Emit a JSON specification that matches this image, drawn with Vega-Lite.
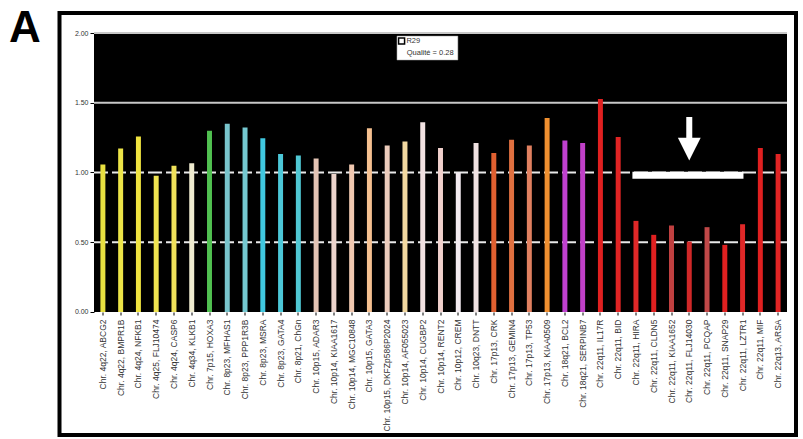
{
  "$schema": "https://vega.github.io/schema/vega-lite/v6.json",
  "width": 736.5,
  "height": 422,
  "autosize": {"type": "none"},
  "padding": {"left": 59.5, "top": 13, "right": 7, "bottom": 4},
  "background": "white",
  "config": {
    "view": {"stroke": "black", "strokeWidth": 4, "fill": "white"},
    "font": "Liberation Sans"
  },
  "title": {
    "text": "A",
    "orient": "left",
    "anchor": "end",
    "angle": 0,
    "align": "right",
    "baseline": "top",
    "frame": "group",
    "fontSize": 44,
    "fontWeight": "bold",
    "font": "Liberation Sans",
    "color": "black",
    "offset": -13,
    "dy": -6
  },
  "datasets": {
    "bars": [
      {"label": "Chr.  4q22, ABCG2", "value": 1.057},
      {"label": "Chr.  4q22, BMPR1B", "value": 1.172},
      {"label": "Chr.  4q24, NFKB1", "value": 1.258},
      {"label": "Chr.  4q25, FLJ10474", "value": 0.976},
      {"label": "Chr.  4q24, CASP6", "value": 1.048},
      {"label": "Chr.  4q34, KLKB1", "value": 1.067},
      {"label": "Chr.  7p15, HOXA3", "value": 1.299},
      {"label": "Chr.  8p23, MFHAS1", "value": 1.349},
      {"label": "Chr.  8p23, PPP1R3B", "value": 1.323},
      {"label": "Chr.  8p23, MSRA", "value": 1.246},
      {"label": "Chr.  8p23, GATA4", "value": 1.132},
      {"label": "Chr.  8p21, ChGn", "value": 1.122},
      {"label": "Chr.  10p15, ADAR3", "value": 1.100},
      {"label": "Chr.  10p14, KIAA1617", "value": 0.990},
      {"label": "Chr.  10p14, MGC10848", "value": 1.057},
      {"label": "Chr.  10p15, GATA3", "value": 1.318},
      {"label": "Chr.  10p15, DKFZp586P2024", "value": 1.194},
      {"label": "Chr.  10p14, AF055023", "value": 1.222},
      {"label": "Chr.  10p14, CUGBP2", "value": 1.361},
      {"label": "Chr.  10p14, RENT2", "value": 1.175},
      {"label": "Chr.  10p12, CREM", "value": 1.000},
      {"label": "Chr.  10q23, DNTT", "value": 1.211},
      {"label": "Chr.  17p13, CRK", "value": 1.139},
      {"label": "Chr.  17p13, GEMIN4", "value": 1.234},
      {"label": "Chr.  17p13, TP53", "value": 1.194},
      {"label": "Chr.  17p13, KIAA0509", "value": 1.390},
      {"label": "Chr.  18q21, BCL2", "value": 1.230},
      {"label": "Chr.  18q21, SERPINB7", "value": 1.211},
      {"label": "Chr.  22q11, IL17R", "value": 1.526},
      {"label": "Chr.  22q11, BID", "value": 1.254},
      {"label": "Chr.  22q11, HIRA", "value": 0.653},
      {"label": "Chr.  22q11, CLDN5", "value": 0.553},
      {"label": "Chr.  22q11, KIAA1652", "value": 0.620},
      {"label": "Chr.  22q11, FLJ14030", "value": 0.505},
      {"label": "Chr.  22q11, PCQAP", "value": 0.608},
      {"label": "Chr.  22q11, SNAP29", "value": 0.481},
      {"label": "Chr.  22q11, LZTR1", "value": 0.629},
      {"label": "Chr.  22q11, MIF", "value": 1.175},
      {"label": "Chr.  22q13, ARSA", "value": 1.132}
    ],
    "plotArea": [{"lo": 0, "hi": 2}],
    "solidGrid": [{"level": 1.5}, {"level": 2.0}],
    "dashedGrid": [{"level": 0.5}, {"level": 1.0}],
    "bracket": [{"lo": 0.956, "hi": 1.006}],
    "arrow": [{"top": 1.398, "bottom": 1.24, "head": 1.168}],
    "legendBox": [{"top": 1.978, "bottom": 1.806, "line1": 1.943, "line2": 1.857}]
  },
  "encoding": {
    "x": {
      "field": "label",
      "type": "nominal",
      "scale": {
        "type": "band",
        "paddingInner": 0,
        "paddingOuter": 0,
        "range": [34.5, 727.5],
        "domain": ["Chr.  4q22, ABCG2", "Chr.  4q22, BMPR1B", "Chr.  4q24, NFKB1", "Chr.  4q25, FLJ10474", "Chr.  4q24, CASP6", "Chr.  4q34, KLKB1", "Chr.  7p15, HOXA3", "Chr.  8p23, MFHAS1", "Chr.  8p23, PPP1R3B", "Chr.  8p23, MSRA", "Chr.  8p23, GATA4", "Chr.  8p21, ChGn", "Chr.  10p15, ADAR3", "Chr.  10p14, KIAA1617", "Chr.  10p14, MGC10848", "Chr.  10p15, GATA3", "Chr.  10p15, DKFZp586P2024", "Chr.  10p14, AF055023", "Chr.  10p14, CUGBP2", "Chr.  10p14, RENT2", "Chr.  10p12, CREM", "Chr.  10q23, DNTT", "Chr.  17p13, CRK", "Chr.  17p13, GEMIN4", "Chr.  17p13, TP53", "Chr.  17p13, KIAA0509", "Chr.  18q21, BCL2", "Chr.  18q21, SERPINB7", "Chr.  22q11, IL17R", "Chr.  22q11, BID", "Chr.  22q11, HIRA", "Chr.  22q11, CLDN5", "Chr.  22q11, KIAA1652", "Chr.  22q11, FLJ14030", "Chr.  22q11, PCQAP", "Chr.  22q11, SNAP29", "Chr.  22q11, LZTR1", "Chr.  22q11, MIF", "Chr.  22q13, ARSA"]
      },
      "axis": {
        "orient": "bottom",
        "offset": -123,
        "title": null,
        "labelAngle": -90,
        "labelAlign": "right",
        "labelBaseline": "middle",
        "labelFontSize": 8.5,
        "labelColor": "#333333",
        "labelLimit": 200,
        "labelPadding": 4,
        "tickSize": 3,
        "tickColor": "black",
        "domain": false,
        "grid": false
      }
    },
    "y": {
      "type": "quantitative",
      "scale": {"domain": [-0.882, 2.1434], "zero": false, "nice": false},
      "axis": {
        "orient": "left",
        "offset": -34.5,
        "title": null,
        "values": [0, 0.5, 1, 1.5, 2],
        "format": ".2f",
        "labelFontSize": 7,
        "labelColor": "#333333",
        "labelPadding": 2,
        "tickSize": 4,
        "tickColor": "black",
        "domain": false,
        "grid": false
      }
    }
  },
  "layer": [
    {
      "data": {"name": "plotArea"},
      "mark": {"type": "rect", "color": "black"},
      "encoding": {
        "x": {"datum": "Chr.  4q22, ABCG2", "bandPosition": 0},
        "x2": {"datum": "Chr.  22q13, ARSA", "bandPosition": 1},
        "y": {"field": "lo", "type": "quantitative"},
        "y2": {"field": "hi"}
      }
    },
    {
      "data": {"name": "solidGrid"},
      "mark": {"type": "rule", "color": "#c8c8c8", "strokeWidth": 2, "strokeCap": "butt"},
      "encoding": {
        "x": {"datum": "Chr.  4q22, ABCG2", "bandPosition": 0},
        "x2": {"datum": "Chr.  22q13, ARSA", "bandPosition": 1},
        "y": {"field": "level", "type": "quantitative"}
      }
    },
    {
      "data": {"name": "dashedGrid"},
      "mark": {"type": "rule", "color": "#e8e8e8", "strokeWidth": 2, "strokeDash": [14, 4], "strokeCap": "butt"},
      "encoding": {
        "x": {"datum": "Chr.  4q22, ABCG2", "bandPosition": 0},
        "x2": {"datum": "Chr.  22q13, ARSA", "bandPosition": 1},
        "y": {"field": "level", "type": "quantitative"}
      }
    },
    {
      "data": {"name": "bars"},
      "mark": {"type": "bar", "width": {"band": 0.28}},
      "encoding": {
        "y": {"field": "value", "type": "quantitative"},
        "y2": {"datum": 0},
        "color": {
          "field": "label",
          "type": "nominal",
          "legend": null,
          "scale": {
            "domain": ["Chr.  4q22, ABCG2", "Chr.  4q22, BMPR1B", "Chr.  4q24, NFKB1", "Chr.  4q25, FLJ10474", "Chr.  4q24, CASP6", "Chr.  4q34, KLKB1", "Chr.  7p15, HOXA3", "Chr.  8p23, MFHAS1", "Chr.  8p23, PPP1R3B", "Chr.  8p23, MSRA", "Chr.  8p23, GATA4", "Chr.  8p21, ChGn", "Chr.  10p15, ADAR3", "Chr.  10p14, KIAA1617", "Chr.  10p14, MGC10848", "Chr.  10p15, GATA3", "Chr.  10p15, DKFZp586P2024", "Chr.  10p14, AF055023", "Chr.  10p14, CUGBP2", "Chr.  10p14, RENT2", "Chr.  10p12, CREM", "Chr.  10q23, DNTT", "Chr.  17p13, CRK", "Chr.  17p13, GEMIN4", "Chr.  17p13, TP53", "Chr.  17p13, KIAA0509", "Chr.  18q21, BCL2", "Chr.  18q21, SERPINB7", "Chr.  22q11, IL17R", "Chr.  22q11, BID", "Chr.  22q11, HIRA", "Chr.  22q11, CLDN5", "Chr.  22q11, KIAA1652", "Chr.  22q11, FLJ14030", "Chr.  22q11, PCQAP", "Chr.  22q11, SNAP29", "Chr.  22q11, LZTR1", "Chr.  22q11, MIF", "Chr.  22q13, ARSA"],
            "range": ["#e8e040", "#ece448", "#f0e440", "#f0e450", "#f0e25a", "#f0ecd0", "#50c050", "#78c4cc", "#74c8d0", "#40c8e0", "#4cc8d8", "#50c8d4", "#e4c4b4", "#ecd4cc", "#f0c8b0", "#f5c090", "#ecccbc", "#f2d8a0", "#f2e2e2", "#f0d0cc", "#f2eaf0", "#f0e2e2", "#e06030", "#e07040", "#e08060", "#f09030", "#c040d0", "#c040c8", "#e02020", "#e02424", "#e02828", "#e02020", "#c04040", "#d02828", "#c04848", "#e02020", "#e02828", "#e02020", "#e02424"]
          }
        }
      }
    },
    {
      "data": {"name": "bracket"},
      "mark": {"type": "rect", "color": "white"},
      "encoding": {
        "x": {"datum": "Chr.  22q11, HIRA", "bandPosition": 0.3},
        "x2": {"datum": "Chr.  22q11, LZTR1", "bandPosition": 0.55},
        "y": {"field": "lo", "type": "quantitative"},
        "y2": {"field": "hi"}
      }
    },
    {
      "data": {"name": "arrow"},
      "mark": {"type": "rule", "color": "white", "strokeWidth": 6, "strokeCap": "butt"},
      "encoding": {
        "x": {"datum": "Chr.  22q11, FLJ14030"},
        "y": {"field": "top", "type": "quantitative"},
        "y2": {"field": "bottom"}
      }
    },
    {
      "data": {"name": "arrow"},
      "mark": {"type": "point", "shape": "M-1,-1L1,-1L0,1Z", "size": 520, "filled": true, "color": "white", "opacity": 1},
      "encoding": {
        "x": {"datum": "Chr.  22q11, FLJ14030"},
        "y": {"field": "head", "type": "quantitative"}
      }
    },
    {
      "data": {"name": "legendBox"},
      "mark": {"type": "rect", "color": "white", "stroke": "#999999", "strokeWidth": 0.5},
      "encoding": {
        "x": {"datum": "Chr.  10p14, AF055023", "bandPosition": 0.05},
        "x2": {"datum": "Chr.  10p12, CREM", "bandPosition": 0.48},
        "y": {"field": "top", "type": "quantitative"},
        "y2": {"field": "bottom"}
      }
    },
    {
      "data": {"name": "legendBox"},
      "mark": {"type": "point", "shape": "square", "size": 36, "filled": true, "color": "white", "stroke": "black", "strokeWidth": 1.5, "opacity": 1},
      "encoding": {
        "x": {"datum": "Chr.  10p14, AF055023", "bandPosition": 0.31},
        "y": {"field": "line1", "type": "quantitative"}
      }
    },
    {
      "data": {"name": "legendBox"},
      "mark": {"type": "text", "text": "R29", "align": "left", "baseline": "middle", "fontSize": 7.5, "color": "#333333"},
      "encoding": {
        "x": {"datum": "Chr.  10p14, AF055023", "bandPosition": 0.58},
        "y": {"field": "line1", "type": "quantitative"}
      }
    },
    {
      "data": {"name": "legendBox"},
      "mark": {"type": "text", "text": "Qualité = 0.28", "align": "left", "baseline": "middle", "fontSize": 7.5, "color": "#333333"},
      "encoding": {
        "x": {"datum": "Chr.  10p14, AF055023", "bandPosition": 0.6},
        "y": {"field": "line2", "type": "quantitative"}
      }
    }
  ]
}
